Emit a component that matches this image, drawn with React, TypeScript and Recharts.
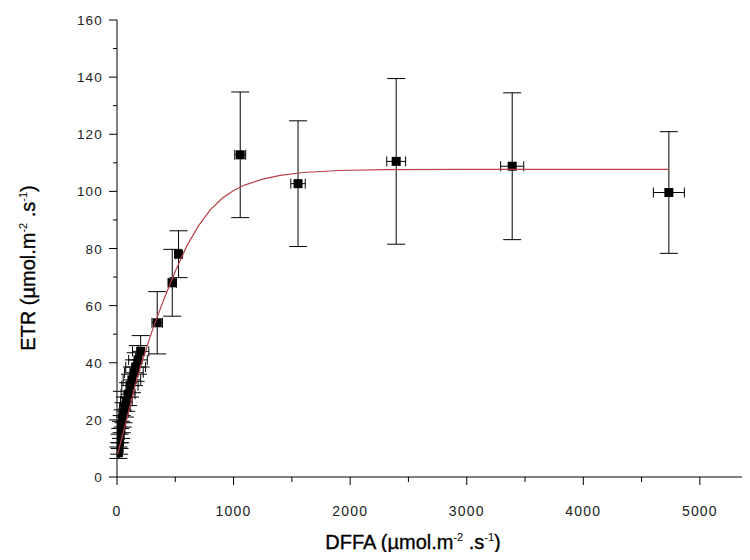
import React from 'react';
import { ScatterChart, Scatter, XAxis, YAxis, ErrorBar } from 'recharts';

// Measured points: DFFA (x), ETR (y) with their standard errors
const dffa = [12, 18, 22, 28, 34, 40, 48, 56, 68, 80, 95, 111, 128, 145, 160, 180, 203, 345, 474, 528, 1057, 1553, 2395, 3390, 4734];
const etr = [8.5, 10, 12.5, 14.5, 16.5, 18.5, 20.5, 22.5, 24.5, 26.5, 29, 32, 34, 36.5, 38.5, 41, 44, 54, 68, 78, 112.8, 102.7, 110.5, 108.8, 99.6];
const etrErr = [2, 2, 2.5, 2.5, 3, 3, 3, 3.5, 3.5, 3.5, 4, 4, 4.5, 4.5, 5, 5, 5.5, 10.9, 11.7, 8.2, 22, 22, 29, 25.7, 21.3];
const dffaErr = [10, 15, 18, 22, 25, 28, 32, 38, 45, 50, 60, 70, 75, 80, 85, 80, 70, 45, 35, 25, 47, 62, 81, 99, 133];

// Fitted curve
const fitX = [5, 50, 100, 150, 200, 300, 400, 500, 600, 700, 800, 900, 1000, 1100, 1250, 1400, 1600, 1900, 2300, 3000, 4000, 4734];
const fitY = [8, 15, 23, 31, 38.5, 51, 62, 72, 81, 88, 93.5, 97.5, 100.3, 102.3, 104.3, 105.6, 106.6, 107.3, 107.6, 107.7, 107.7, 107.7];

const xTicks = [0, 500, 1000, 1500, 2000, 2500, 3000, 3500, 4000, 4500, 5000];
const xMajor = [0, 1000, 2000, 3000, 4000, 5000];
const yTicks = [0, 10, 20, 30, 40, 50, 60, 70, 80, 90, 100, 110, 120, 130, 140, 150, 160];
const yMajor = [0, 20, 40, 60, 80, 100, 120, 140, 160];

const points = dffa.map((x, i) => ({ x, y: etr[i], ey: etrErr[i], ex: dffaErr[i] }));
const fit = fitX.map((x, i) => ({ x, y: fitY[i] }));

const W = 742;
const H = 544;
const FONT = '"Liberation Sans", Arial, sans-serif';

const XTick = (props: any) => {
  const { x, y, payload } = props;
  const major = xMajor.includes(payload.value);
  return (
    <g>
      <line x1={x} x2={x} y1={y} y2={y + (major ? 8 : 5)} stroke="#000" strokeWidth={1} />
      {major && (
        <text x={x} y={y + 39} textAnchor="middle" fontFamily={FONT} fontSize={14} letterSpacing={1.2} fill="#222">
          {payload.value}
        </text>
      )}
    </g>
  );
};

const YTick = (props: any) => {
  const { x, y, payload } = props;
  const major = yMajor.includes(payload.value);
  return (
    <g>
      <line x1={x} x2={x - (major ? 8 : 4)} y1={y} y2={y} stroke="#000" strokeWidth={1} />
      {major && (
        <text x={x - 14} y={y + 5} textAnchor="end" fontFamily={FONT} fontSize={13.5} letterSpacing={1.2} fill="#222">
          {payload.value}
        </text>
      )}
    </g>
  );
};

const Square = (props: any) => {
  const { cx, cy } = props;
  return <rect x={cx - 4.5} y={cy - 4.5} width={9} height={9} fill="#000" />;
};

const Nothing = () => <g />;

export default function App() {
  return (
    <div style={{ position: 'relative', width: W, height: H }}>
      <ScatterChart width={W} height={H} margin={{ top: 12, right: 0, bottom: 0, left: 0 }}>
        <XAxis
          type="number"
          dataKey="x"
          domain={[0, 5430]}
          allowDataOverflow
          ticks={xTicks}
          interval={0}
          tick={XTick}
          tickLine={false}
          tickSize={0}
          tickMargin={0}
          axisLine={{ stroke: '#000', strokeWidth: 1 }}
          height={75}
        />
        <YAxis
          type="number"
          dataKey="y"
          domain={[0, 160]}
          allowDataOverflow
          ticks={yTicks}
          interval={0}
          tick={YTick}
          tickLine={false}
          tickSize={0}
          tickMargin={0}
          axisLine={{ stroke: '#000', strokeWidth: 1 }}
          width={109}
        />
        <Scatter data={points} shape={Square} isAnimationActive={false}>
          <ErrorBar dataKey="ey" direction="y" width={9} stroke="#000" strokeWidth={1} isAnimationActive={false} />
          <ErrorBar dataKey="ex" direction="x" width={5} stroke="#000" strokeWidth={1} isAnimationActive={false} />
        </Scatter>
        <Scatter
          data={fit}
          shape={Nothing}
          line={{ stroke: '#b8404a', strokeWidth: 1.2 }}
          lineType="joint"
          isAnimationActive={false}
        />
      </ScatterChart>
      <svg width={W} height={552} style={{ position: 'absolute', left: 0, top: 0, pointerEvents: 'none', overflow: 'visible' }}>
        <text
          transform="translate(27,260) rotate(-90)"
          textAnchor="middle"
          fontFamily={FONT}
          fontSize={20}
          fill="#000"
          stroke="#000"
          strokeWidth={0.35}
        >
          ETR (µmol.m
          <tspan dy={-8} fontSize={11} strokeWidth={0}>-2</tspan>
          <tspan dy={8}> .s</tspan>
          <tspan dy={-8} fontSize={11} strokeWidth={0}>-1</tspan>
          <tspan dy={8}>)</tspan>
        </text>
        <text x={405} y={541} textAnchor="middle" fontFamily={FONT} fontSize={20} fill="#000" stroke="#000" strokeWidth={0.35}>
          DFFA (µmol.m
          <tspan dy={-8} fontSize={11} strokeWidth={0}>-2</tspan>
          <tspan dy={8}> .s</tspan>
          <tspan dy={-8} fontSize={11} strokeWidth={0}>-1</tspan>
          <tspan dy={8}>)</tspan>
        </text>
      </svg>
    </div>
  );
}
